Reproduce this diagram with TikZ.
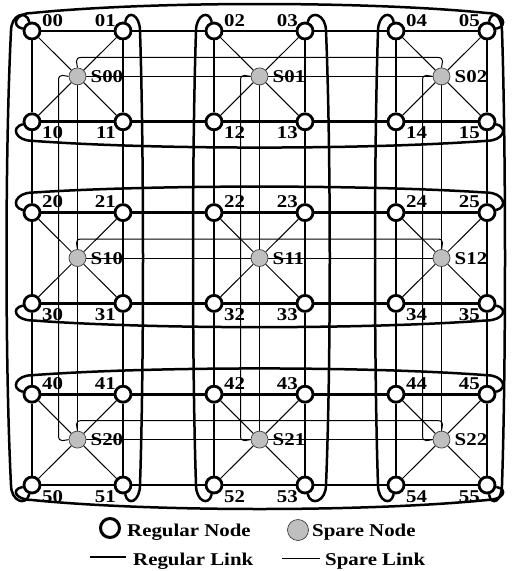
\documentclass[tikz,border=0pt]{standalone}
\usepackage{fontspec}
\setmainfont{Liberation Serif}[FakeStretch=1.16]
\pgfdeclarelayer{bg}
\pgfsetlayers{bg,main}
\tikzset{
  reg/.style={circle, draw=black, line width=2.8pt, fill=white, minimum size=16pt, inner sep=0pt},
  spr/.style={circle, draw=black!75, line width=0.7pt, fill=black!25, minimum size=17pt, inner sep=0pt},
  rlink/.style={line width=2.8pt},
  rwrap/.style={line width=2.5pt},
  slink/.style={line width=1pt, black},
  lbl/.style={font=\bfseries\fontsize{18}{18}\selectfont, inner sep=0pt},
  lab0/.style={anchor=base west},
  lab1/.style={anchor=base east},
}
% row wrap: start, end, hook offset, bow
\newcommand\rowwrap[4]{\draw[rwrap] (#1) .. controls +(-22,{0.3*#3}) and +(-16,0) .. ([shift={(0,#3)}]#1.center) .. controls +(120,#4) and +(-120,#4) .. ([shift={(0,#3)}]#2.center) .. controls +(16,0) and +(22,{0.3*#3}) .. (#2);}
% column wrap: start, end, hook offset, bow
\newcommand\colwrap[4]{\draw[rwrap] (#1) .. controls +({0.3*#3},-22) and +(0,-16) .. ([shift={(#3,0)}]#1.center) .. controls +(#4,120) and +(#4,-120) .. ([shift={(#3,0)}]#2.center) .. controls +(0,16) and +({0.3*#3},22) .. (#2);}
\begin{document}
\begin{tikzpicture}[x=1pt,y=-1pt]
\useasboundingbox (0,0) rectangle (512,571);
% regular nodes
\foreach \r in {0,...,5}{
  \foreach \c in {0,...,5}{
    \node[reg] (n\r\c) at ({32+91*\c},{31+90.8*\r}) {};
  }
}
% spare nodes
\foreach \j in {0,1,2}{
  \foreach \i in {0,1,2}{
    \node[spr] (s\j\i) at ({77.5+182*\i},{76.4+181.6*\j}) {};
  }
}
\begin{pgfonlayer}{bg}
% regular straight links
\foreach \r in {0,...,5}{
  \foreach \c [evaluate=\c as \d using {int(\c+1)}] in {0,...,4}{
    \draw[rlink] (n\r\c) -- (n\r\d);
    \draw[rlink] (n\c\r) -- (n\d\r);
  }
}
% regular wrap-around links (rows)
\rowwrap{n00}{n05}{-18}{-12}
\rowwrap{n10}{n15}{19}{9}
\rowwrap{n20}{n25}{-20}{-8}
\rowwrap{n30}{n35}{17}{9}
\rowwrap{n40}{n45}{-19}{-9}
\rowwrap{n50}{n55}{15}{12}
% regular wrap-around links (columns)
\colwrap{n00}{n50}{-21}{-6}
\colwrap{n01}{n51}{17}{4}
\colwrap{n02}{n52}{-18}{-4}
\colwrap{n03}{n53}{21}{5}
\colwrap{n04}{n54}{-18}{-4}
\colwrap{n05}{n55}{15}{4}
% spare links
\foreach \j in {0,1,2}{
  \draw[slink] (s\j0) -- (s\j1);
  \draw[slink] (s\j1) -- (s\j2);
  \draw[slink] (s0\j) -- (s1\j);
  \draw[slink] (s1\j) -- (s2\j);
  \draw[slink] (s\j0) .. controls +(0,-12) and +(-8,0) .. ([shift={(4,-19)}]s\j0.center)
     -- ([shift={(-4,-19)}]s\j2.center) .. controls +(8,0) and +(0,-12) .. (s\j2);
  \draw[slink] (s0\j) .. controls +(-12,0) and +(0,-8) .. ([shift={(-19,4)}]s0\j.center)
     -- ([shift={(-19,-4)}]s2\j.center) .. controls +(0,8) and +(-12,0) .. (s2\j);
  \foreach \i in {0,1,2}{
    \pgfmathtruncatemacro\ra{2*\j}
    \pgfmathtruncatemacro\rb{2*\j+1}
    \pgfmathtruncatemacro\ca{2*\i}
    \pgfmathtruncatemacro\cb{2*\i+1}
    \draw[slink] (s\j\i) -- (n\ra\ca);
    \draw[slink] (s\j\i) -- (n\ra\cb);
    \draw[slink] (s\j\i) -- (n\rb\ca);
    \draw[slink] (s\j\i) -- (n\rb\cb);
  }
}
\end{pgfonlayer}
% labels of regular nodes
\foreach \r in {0,...,5}{
  \foreach \c in {0,...,5}{
    \pgfmathtruncatemacro\pc{mod(\c,2)}
    \pgfmathtruncatemacro\pr{mod(\r,2)}
    \pgfmathsetmacro\dx{\pc==0 ? 10 : -7}
    \pgfmathsetmacro\dy{\pr==0 ? -5 : 17}
    \node[lbl, lab\pc] (t\r\c) at ([shift={(\dx,\dy)}]n\r\c.center) {\r\c};
  }
}
% labels of spare nodes
\foreach \j in {0,1,2}{
  \foreach \i in {0,1,2}{
    \node[lbl, anchor=base west] (u\j\i) at ([shift={(13,6)}]s\j\i.center) {S\j\i};
  }
}
% legend
\node[reg, minimum size=19pt, line width=3pt] (lr) at (110,528) {};
\node[lbl, anchor=base west] (lrt) at (127,536.5) {Regular Node};
\node[spr, minimum size=21pt] (ls) at (298,530) {};
\node[lbl, anchor=base west] (lst) at (312,536.5) {Spare Node};
\coordinate (la) at (90,557);
\coordinate (lb) at (126,557);
\draw[rlink] (la) -- (lb);
\node[lbl, anchor=base west] (lrl) at (133,565) {Regular Link};
\coordinate (lc) at (282,558);
\coordinate (ld) at (320,558);
\draw[slink] (lc) -- (ld);
\node[lbl, anchor=base west] (lsl) at (325,565) {Spare Link};
\end{tikzpicture}
\end{document}
